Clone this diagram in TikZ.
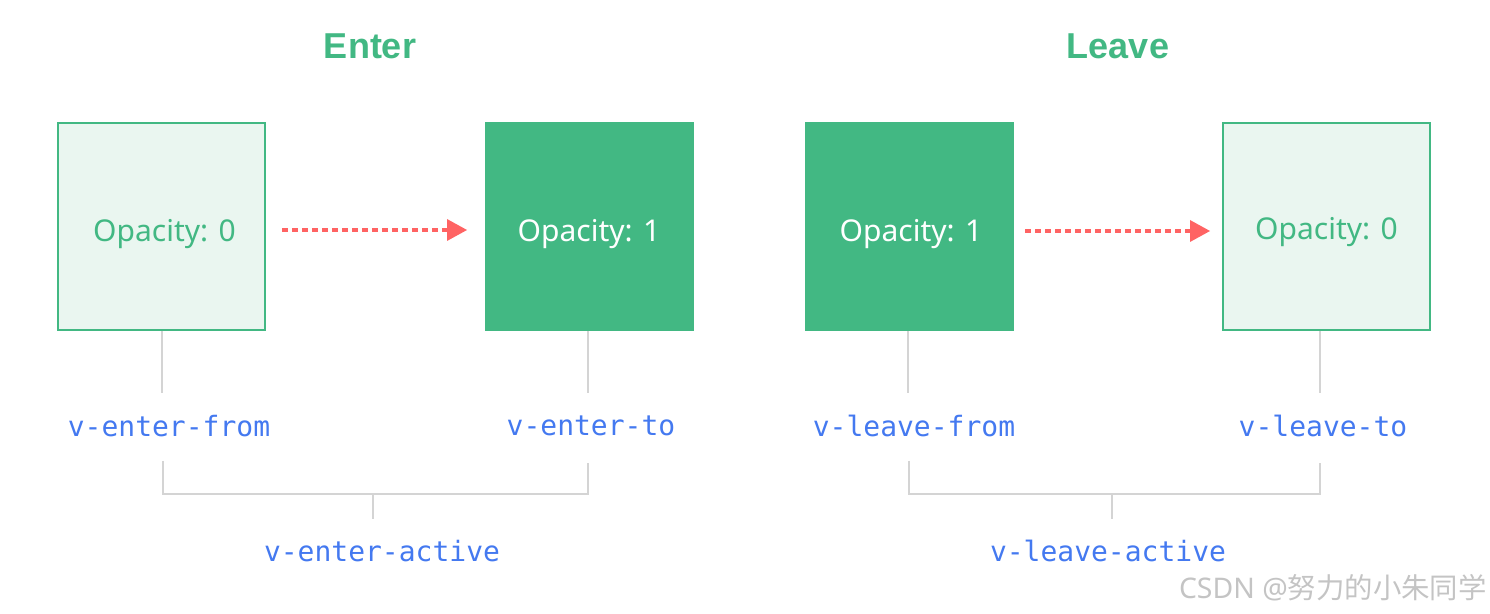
\documentclass[tikz,border=0pt]{standalone}
\usepackage{fontspec}
\setmainfont{Noto Sans}
\newfontfamily\monofont{DejaVu Sans Mono}
\newfontfamily\titlefont{Liberation Sans}
\newfontfamily\cjkfont{Noto Sans CJK SC}
\usetikzlibrary{arrows.meta}
\definecolor{vgreen}{HTML}{42B883}
\definecolor{vlight}{HTML}{EAF6F0}
\definecolor{vred}{HTML}{FF6363}
\definecolor{vgray}{HTML}{D4D4D4}
\definecolor{vblue}{HTML}{4479F0}
\definecolor{wmark}{HTML}{C4C4C4}
\begin{document}
\begin{tikzpicture}[x=0.5pt,y=-0.5pt,
  boxbase/.style={rectangle,minimum width=103.5pt,minimum height=103.5pt,inner sep=0pt,line width=1pt,text height=0.72em,text depth=0pt,font=\fontsize{15}{18}\selectfont},
  lightbox/.style={boxbase,draw=vgreen,fill=vlight,text=vgreen},
  darkbox/.style={boxbase,draw=vgreen,fill=vgreen,text=white},
  title/.style={font=\titlefont\fontsize{18}{21}\selectfont\bfseries,text=vgreen},
  cls/.style={font=\monofont\fontsize{14}{16}\selectfont,text=vblue,inner sep=0pt},
  flow/.style={draw=vred,line width=2pt,dash pattern=on 3pt off 2pt,-{Triangle[length=10pt,width=11pt,line width=0pt]}},
  guide/.style={draw=vgray,line width=1pt}
]
\useasboundingbox (0,0) rectangle (1490,614);

% titles
\node[title] (tenter) at (370,46) {Enter};
\node[title] (tleave) at (1118,46) {Leave};

% boxes
\node[lightbox] (b1) at (161.5,226.5) {\hspace{3pt}\raisebox{-3.75pt}{Opacity: 0}};
\node[darkbox]  (b2) at (589,226.5) {\raisebox{-3.75pt}{Opacity: 1}};
\node[darkbox]  (b3) at (909,226.5) {\hspace{2pt}\raisebox{-3.75pt}{Opacity: 1}};
\node[lightbox] (b4) at (1326.5,226.5) {\raisebox{-2.75pt}{Opacity: 0}\hspace{1.5pt}};

% arrows
\coordinate (a1s) at (282,230);
\coordinate (a1e) at (467,230);
\coordinate (a2s) at (1025,231);
\coordinate (a2e) at (1210,231);
\draw[flow] (a1s) -- (a1e);
\draw[flow] (a2s) -- (a2e);

% labels
\node[cls] (l1) at (169,426) {v-enter-from};
\node[cls] (l2) at (591,426) {v-enter-to};
\node[cls] (l3) at (914,426) {v-leave-from};
\node[cls] (l4) at (1323,426) {v-leave-to};
\node[cls] (la) at (382,551) {v-enter-active};
\node[cls] (lb) at (1108,551) {v-leave-active};

% guide lines box -> label
\coordinate (g1) at (162,393);
\coordinate (g2) at (588,393);
\coordinate (g3) at (908,393);
\coordinate (g4) at (1320,393);
\draw[guide] (b1.south -| g1) -- (g1);
\draw[guide] (b2.south -| g2) -- (g2);
\draw[guide] (b3.south -| g3) -- (g3);
\draw[guide] (b4.south -| g4) -- (g4);

% brackets
\coordinate (e1) at (163,461);
\coordinate (e2) at (588,463);
\coordinate (em) at (373,494);
\coordinate (et) at (373,519);
\draw[guide] (e1) -- (e1 |- em) -- (e2 |- em) -- (e2);
\draw[guide] (em) -- (et);

\coordinate (f1) at (909,461);
\coordinate (f2) at (1320,463);
\coordinate (fm) at (1112,494);
\coordinate (ft) at (1112,519);
\draw[guide] (f1) -- (f1 |- fm) -- (f2 |- fm) -- (f2);
\draw[guide] (fm) -- (ft);

% watermark
\node[anchor=east,inner sep=0pt,text=wmark,font=\fontsize{14.2}{16}\selectfont] (wm) at (1487,588) {CSDN @{\cjkfont 努力的小朱同学}};
\end{tikzpicture}
\end{document}
